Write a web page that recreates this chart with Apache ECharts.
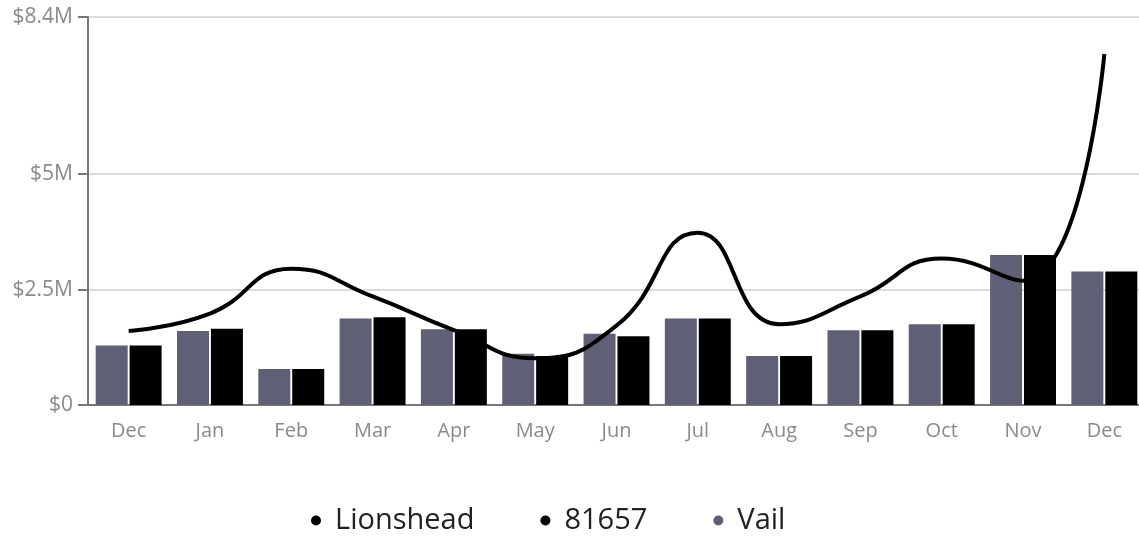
<!DOCTYPE html>
<html>
<head>
<meta charset="utf-8">
<script src="https://cdn.jsdelivr.net/npm/echarts@6/dist/echarts.min.js"></script>
<style>
  html, body { margin: 0; padding: 0; background: #fff; }
  #chart { width: 1139px; height: 536px; }
</style>
</head>
<body>
<div id="chart"></div>
<script>
  // values in millions of dollars
  const months = ['Dec', 'Jan', 'Feb', 'Mar', 'Apr', 'May', 'Jun', 'Jul', 'Aug', 'Sep', 'Oct', 'Nov', 'Dec']
  const lionshead = [1.6, 1.98, 2.95, 2.35, 1.62, 1.01, 1.72, 3.73, 1.75, 2.35, 3.17, 2.69, 7.6]
  const zip81657 = [1.29, 1.65, 0.78, 1.9, 1.64, 1.06, 1.49, 1.87, 1.06, 1.62, 1.75, 3.25, 2.89]
  const vail = [1.29, 1.6, 0.78, 1.87, 1.64, 1.11, 1.54, 1.87, 1.06, 1.62, 1.75, 3.25, 2.89]
  const yTicks = [0, 2.5, 5, 8.4]

  const font = '"Open Sans", Lato, sans-serif'
  const grey = '#8a8a8a'
  const vailColor = '#5f5f75'

  const chart = echarts.init(document.getElementById('chart'))

  chart.setOption({
    animation: false,
    grid: { left: 88, top: 17, right: -6, bottom: 131, outerBoundsMode: 'none', containLabel: false },
    legend: {
      top: 501,
      left: 306,
      icon: 'circle',
      itemWidth: 10,
      itemHeight: 10,
      itemGap: 66,
      textStyle: { fontFamily: font, fontSize: 29, color: '#222', padding: [0, 0, 0, 9] },
      data: [
        { name: 'Lionshead', itemStyle: { color: '#000' } },
        { name: '81657', itemStyle: { color: '#000' } },
        { name: 'Vail', itemStyle: { color: vailColor } },
      ],
    },
    xAxis: {
      type: 'category',
      data: months,
      axisLine: { lineStyle: { color: '#777', width: 2 } },
      axisTick: { alignWithLabel: true, length: 7, lineStyle: { color: '#777', width: 2 } },
      axisLabel: { color: grey, fontFamily: font, fontSize: 20, margin: 16 },
    },
    yAxis: {
      type: 'value',
      min: 0,
      max: 8.4,
      axisLine: { show: true, lineStyle: { color: '#777', width: 2 } },
      axisTick: { show: true, length: 10, customValues: yTicks, lineStyle: { color: '#777', width: 2 } },
      axisLabel: {
        customValues: yTicks,
        color: grey,
        fontFamily: font,
        fontSize: 21,
        margin: 15,
        formatter: (v) => (v === 0 ? '$0' : '$' + v + 'M'),
      },
      splitLine: { show: true, lineStyle: { color: '#cfcfcf', width: 1.5 } },
    },
    series: [
      {
        name: 'Vail',
        type: 'bar',
        data: vail,
        barWidth: 32,
        barGap: '6%',
        itemStyle: { color: vailColor },
      },
      {
        name: '81657',
        type: 'bar',
        data: zip81657,
        barWidth: 32,
        barGap: '6%',
        itemStyle: { color: '#000' },
      },
      {
        name: 'Lionshead',
        type: 'line',
        data: lionshead,
        smooth: true,
        showSymbol: false,
        z: 5,
        lineStyle: { color: '#000', width: 4 },
        itemStyle: { color: '#000' },
      },
    ],
  })
</script>
</body>
</html>
